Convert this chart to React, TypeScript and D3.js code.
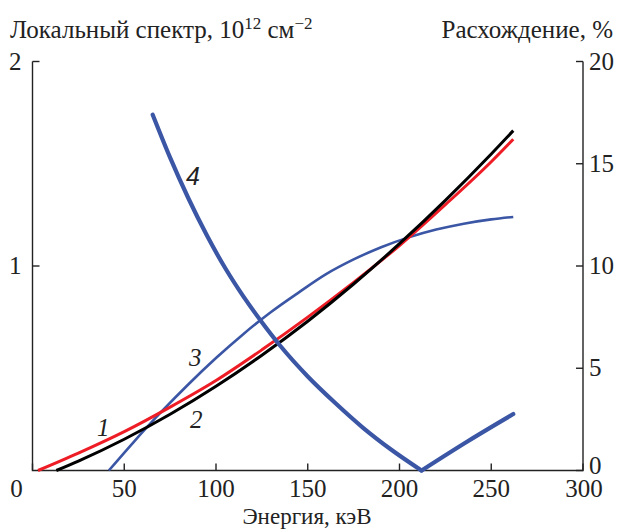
import React from "react";
import * as d3 from "d3";

// энергия, кэВ
const xTicks = [0, 50, 100, 150, 200, 250, 300];
const leftTicks = [1, 2];
const rightTicks = [0, 5, 10, 15, 20];

// 1 - красная, локальный спектр
const energy1 = [3, 25, 50, 75, 100, 125, 150, 175, 200, 225, 250, 262];
const spectrum1 = [0, 0.085, 0.19, 0.31, 0.44, 0.59, 0.75, 0.92, 1.1, 1.3, 1.51, 1.62];

// 2 - черная, локальный спектр
const energy2 = [13, 25, 50, 75, 100, 125, 150, 175, 200, 225, 250, 262];
const spectrum2 = [0, 0.046, 0.153, 0.275, 0.412, 0.564, 0.73, 0.912, 1.109, 1.321, 1.548, 1.662];

// 3 - тонкая синяя, расхождение %
const energy3 = [41.6, 55, 70, 85, 100, 115, 130, 145, 160, 175, 190, 205, 220, 235, 250, 262];
const diff3 = [0, 1.38, 2.85, 4.22, 5.5, 6.68, 7.75, 8.7, 9.6, 10.32, 10.92, 11.4, 11.78, 12.07, 12.28, 12.4];

// 4 - толстая синяя, расхождение %
const energy4 = [65.5, 75, 85, 95, 105, 115, 125, 135, 150, 165, 180, 195, 212, 237, 262];
const diff4 = [17.4, 15.3, 13.3, 11.5, 9.9, 8.5, 7.25, 6.1, 4.6, 3.3, 2.1, 1.05, 0, 1.42, 2.76];

const width = 619;
const height = 531;
const margin = { top: 61.5, right: 36, bottom: 60.5, left: 32.5 };
const font =
    "Liberation Serif, Tinos, 'Times New Roman', Times, 'Nimbus Roman', FreeSerif, 'Noto Serif', 'DejaVu Serif', serif";
const ink = "#222";
const blue = "#3a56a5";

const x = d3.scaleLinear().domain([0, 300]).range([margin.left, width - margin.right]);
const yL = d3.scaleLinear().domain([0, 2]).range([height - margin.bottom, margin.top]);
const yR = d3.scaleLinear().domain([0, 20]).range([height - margin.bottom, margin.top]);

const lineL = d3
    .line<[number, number]>()
    .x((d) => x(d[0]))
    .y((d) => yL(d[1]))
    .curve(d3.curveMonotoneX);
const lineR = d3
    .line<[number, number]>()
    .x((d) => x(d[0]))
    .y((d) => yR(d[1]))
    .curve(d3.curveMonotoneX);

const zip = (xs: number[], ys: number[]) => xs.map((v, i) => [v, ys[i]] as [number, number]);

const App = () => {
    const [x0, x1] = x.range();
    const [yb, yt] = yL.range();
    const tick = 7;

    // кривая 4: две ветви с изломом в нуле
    const pts4 = zip(energy4, diff4);
    const iMin = d3.minIndex(diff4);
    const branches4 = [pts4.slice(0, iMin + 1), pts4.slice(iMin)];

    const labels = [
        { t: "1", px: 97, py: 436, f: font },
        { t: "2", px: 190, py: 428, f: font },
        { t: "3", px: 189, py: 366, f: font },
        { t: "4", px: 186, py: 185, f: "'Liberation Sans', Arial, sans-serif" },
    ];

    return (
        <svg
            width={width}
            height={height}
            style={{ position: "absolute", left: 0, top: 0, background: "#fff", fontFamily: font, fontSize: 25 }}
            fill={ink}
        >
            {/* рамка осей */}
            <path d={`M${x0},${yt}V${yb}H${x1}V${yt}`} fill="none" stroke={ink} strokeWidth={1.4} />

            {xTicks.map((d) => (
                <g key={"x" + d}>
                    <line x1={x(d)} x2={x(d)} y1={yb} y2={yb - tick} stroke={ink} strokeWidth={1.4} />
                    <text x={d === 0 ? x(d) - 16 : x(d) + (d === 300 ? 1 : 0)} y={497} textAnchor="middle">
                        {d}
                    </text>
                </g>
            ))}
            {leftTicks.map((d) => (
                <g key={"l" + d}>
                    <line x1={x0} x2={x0 + tick} y1={yL(d)} y2={yL(d)} stroke={ink} strokeWidth={1.4} />
                    <text x={x0 - 11} y={yL(d) + 8} textAnchor="end">
                        {d}
                    </text>
                </g>
            ))}
            {rightTicks.map((d) => (
                <g key={"r" + d}>
                    <line x1={x1} x2={x1 - tick} y1={yR(d)} y2={yR(d)} stroke={ink} strokeWidth={1.4} />
                    <text x={x1 + 6} y={yR(d) + (d === 0 ? 3 : 8)} textAnchor="start">
                        {d}
                    </text>
                </g>
            ))}

            <path d={lineR(zip(energy3, diff3)) || ""} fill="none" stroke={blue} strokeWidth={2.6} />
            <path d={lineL(zip(energy1, spectrum1)) || ""} fill="none" stroke="#ee1c25" strokeWidth={3} />
            <path d={lineL(zip(energy2, spectrum2)) || ""} fill="none" stroke="#000" strokeWidth={3} />
            {branches4.map((seg, i) => (
                <path
                    key={"b" + i}
                    d={lineR(seg) || ""}
                    fill="none"
                    stroke={blue}
                    strokeWidth={4.2}
                    strokeLinecap="round"
                    strokeLinejoin="round"
                />
            ))}

            {labels.map((d) => (
                <text key={d.t} x={d.px} y={d.py} style={{ fontFamily: d.f, fontStyle: "italic" }}>
                    {d.t}
                </text>
            ))}

            <text x={10} y={38}>
                <tspan>Локальный спектр, 10</tspan>
                <tspan dy={-9} style={{ fontSize: 17 }}>12</tspan>
                <tspan dy={9}> см</tspan>
                <tspan dy={-9} style={{ fontSize: 17 }}>−2</tspan>
            </text>
            <text x={613} y={38} textAnchor="end">
                Расхождение, %
            </text>
            <text x={307} y={524} textAnchor="middle" style={{ fontSize: 23 }}>
                Энергия, кэВ
            </text>
        </svg>
    );
};

export default App;
